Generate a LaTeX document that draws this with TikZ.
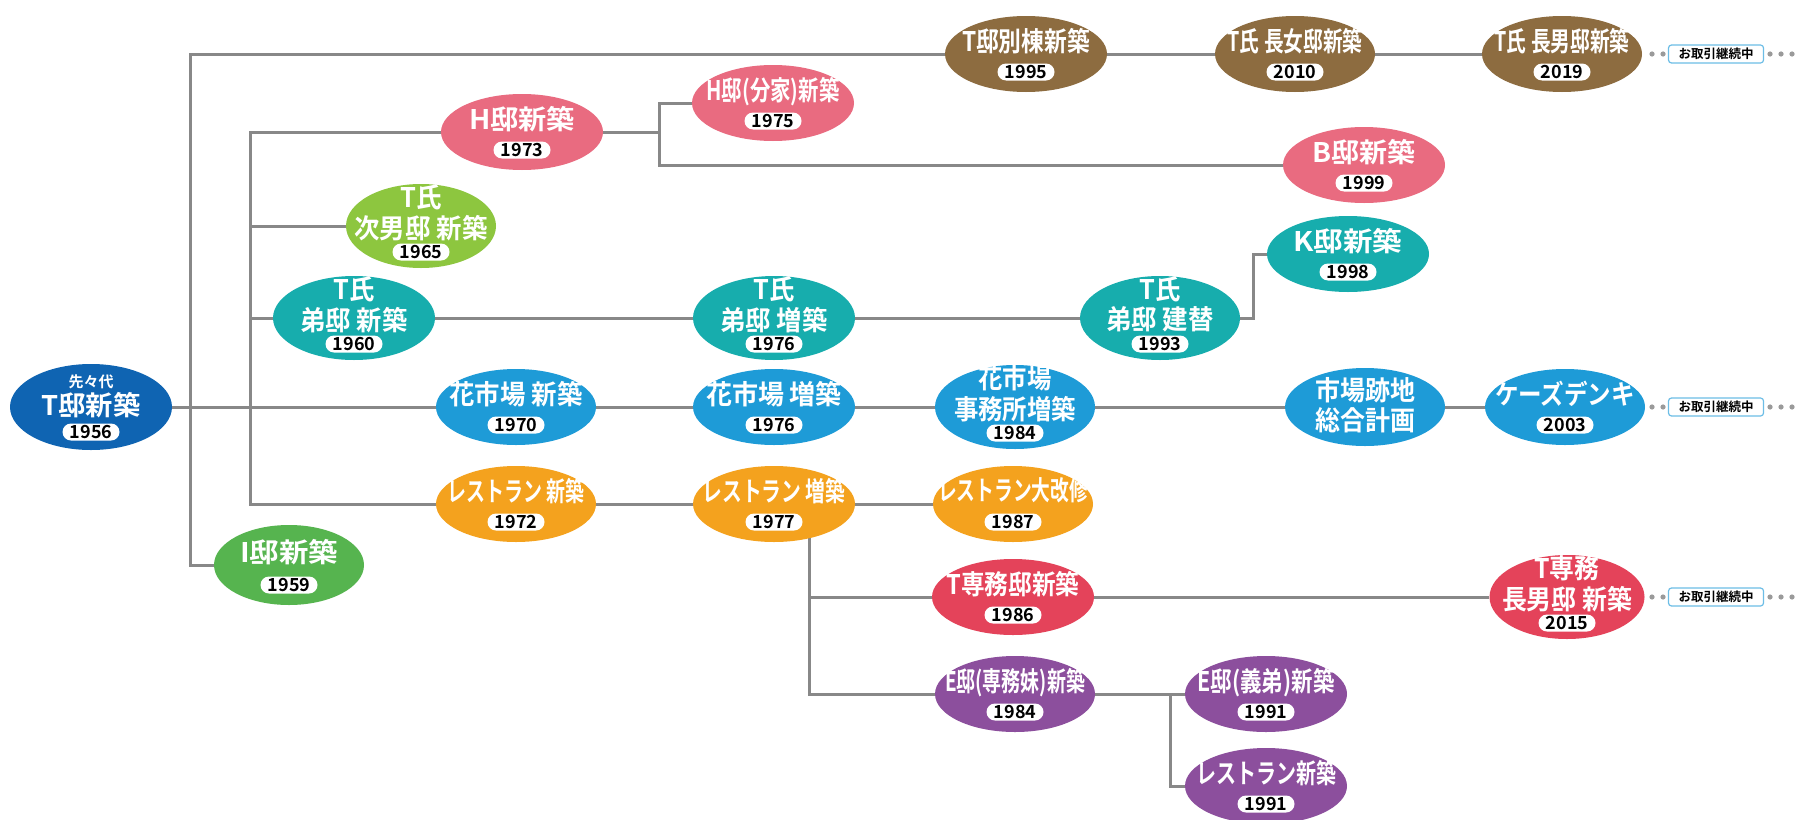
\documentclass[tikz,border=0pt]{standalone}
\usepackage{fontspec}
\setmainfont{Noto Sans CJK JP}[BoldFont=* Bold]
\usetikzlibrary{calc,backgrounds,shapes.geometric}
\definecolor{cRoot}{HTML}{0F64B2}
\definecolor{cBrown}{HTML}{8D6C40}
\definecolor{cPink}{HTML}{E96B80}
\definecolor{cLime}{HTML}{8DC63F}
\definecolor{cTeal}{HTML}{17ADAD}
\definecolor{cBlue}{HTML}{1E9BD7}
\definecolor{cOrange}{HTML}{F4A21E}
\definecolor{cGreen}{HTML}{56B44F}
\definecolor{cRed}{HTML}{E4435A}
\definecolor{cPurple}{HTML}{8C4F9D}
\definecolor{lineC}{HTML}{888888}
\definecolor{tagC}{HTML}{6CBDE6}
\definecolor{dotC}{HTML}{9A9A9A}
\newsavebox\fitbox
\newcommand\fitw[2]{\sbox\fitbox{\begin{tabular}{@{}c@{}}#2\end{tabular}}\edef\fitscale{\fpeval{#1/(\the\wd\fitbox)}}\scalebox{\fitscale}[1]{\usebox\fitbox}}
\tikzset{
  bubble/.style={ellipse, draw=none, inner sep=0},
  hA/.style={minimum height=76},
  hB/.style={minimum height=84},
  lbl/.style={text=white, inner sep=0, font=\fontsize{27}{23.5}\selectfont\bfseries},
  yr/.style={fill=white, rounded corners=8.5, minimum width=57, minimum height=17, inner sep=0, text=black, font=\fontsize{18}{18}\selectfont\bfseries},
  conn/.style={draw=lineC, line width=3},
  tagbox/.style={draw=tagC, line width=1.2, fill=white, rounded corners=3, minimum width=95, minimum height=18, inner sep=0, text=black, font=\fontsize{12.5}{12.5}\selectfont\bfseries},
  dotfill/.style={fill=dotC}
}
\newcommand\bub[8]{%
  \node[bubble,fill=#3,#4] (#1) at (#2) {};
  \node[lbl] (#1-t) at ($(#1)+(0,-11)$) {\fitw{#6}{#5}};
  \node[yr] (#1-y) at ($(#1)+(0,#8)$) {#7};
}
\begin{document}
\begin{tikzpicture}[x=1pt,y=-1pt]
\useasboundingbox (0,0) rectangle (1795,819);
% root
\node[bubble, fill=cRoot, minimum width=162, minimum height=86] (root) at (91,407) {};
\node[lbl, font=\fontsize{15}{15}\selectfont\bfseries] (root-s) at (91,382) {先々代};
\node[lbl, font=\fontsize{27}{27}\selectfont\bfseries] (root-t) at (91,408) {\fitw{99}{T邸新築}};
\node[yr] (root-y) at (91,432) {1956};
% top row
\bub{tbetto}{1026,54}{cBrown}{minimum width=162,hA}{T邸別棟新築}{128}{1995}{18}
\bub{choujo}{1295,54}{cBrown}{minimum width=160,hA}{T氏 長女邸新築}{135}{2010}{18}
\bub{chounan}{1562,54}{cBrown}{minimum width=160,hA}{T氏 長男邸新築}{135}{2019}{18}
% H
\bub{hshin}{522,132}{cPink}{minimum width=162,hA}{H邸新築}{106}{1973}{18}
\bub{bunke}{773,103}{cPink}{minimum width=162,hA}{H邸(分家)新築}{133}{1975}{18}
\bub{bshin}{1364,165}{cPink}{minimum width=162,hA}{B邸新築}{103}{1999}{18}
% jinan
\bub{jinan}{421,226}{cLime}{minimum width=150,hB}{T氏\\次男邸 新築}{133}{1965}{26}
\bub{kshin}{1348,254}{cTeal}{minimum width=162,hA}{K邸新築}{109}{1998}{18}
\bub{ota}{354,318}{cTeal}{minimum width=162,hB}{T氏\\弟邸 新築}{107}{1960}{26}
\bub{otb}{774,318}{cTeal}{minimum width=162,hB}{T氏\\弟邸 増築}{107}{1976}{26}
\bub{otc}{1160,318}{cTeal}{minimum width=160,hB}{T氏\\弟邸 建替}{107}{1993}{26}
% hana
\bub{hanaa}{516,407}{cBlue}{minimum width=160,hA}{花市場 新築}{133}{1970}{18}
\bub{hanab}{774,407}{cBlue}{minimum width=162,hA}{花市場 増築}{136}{1976}{18}
\bub{jimu}{1015,407}{cBlue}{minimum width=160,hB}{花市場\\事務所増築}{122}{1984}{26}
\node[bubble, fill=cBlue, minimum width=160, minimum height=78] (atochi) at (1365,407) {};
\node[lbl] (atochi-t) at (1365,407) {\fitw{100}{市場跡地\\総合計画}};
\bub{keiz}{1565,407}{cBlue}{minimum width=160,hA}{ケーズデンキ}{140}{2003}{18}
% restaurant
\bub{resta}{516,504}{cOrange}{minimum width=160,hA}{レストラン 新築}{137}{1972}{18}
\bub{restb}{774,504}{cOrange}{minimum width=162,hA}{レストラン 増築}{143}{1977}{18}
\bub{daikai}{1013,504}{cOrange}{minimum width=160,hA}{レストラン大改修}{150}{1987}{18}
\bub{itei}{289,565}{cGreen}{minimum width=150,minimum height=80}{I邸新築}{98}{1959}{20}
\bub{tsenmu}{1013,597}{cRed}{minimum width=162,hA}{T専務邸新築}{133}{1986}{18}
\bub{tsenmub}{1567,597}{cRed}{minimum width=155,hB}{T専務\\長男邸 新築}{130}{2015}{26}
\bub{esenmu}{1015,694}{cPurple}{minimum width=160,hA}{E邸(専務妹)新築}{140}{1984}{18}
\bub{egitei}{1266,694}{cPurple}{minimum width=162,hA}{E邸(義弟)新築}{137}{1991}{18}
\bub{prest}{1266,786}{cPurple}{minimum width=162,hA}{レストラン新築}{140}{1991}{18}
% tags
\foreach \n/\yy in {taga/54, tagb/407, tagc/597}{
  \node[tagbox] (\n) at (1716,\yy) {お取引継続中};
  \foreach \dx in {1652,1663,1770,1781,1792}{\fill[dotfill] (\dx,\yy) circle (2.6);}
}
\begin{scope}[on background layer]
\fill[white] (0,0) rectangle (1795,819);
\coordinate (v1) at (190,407);
\coordinate (v2) at (250,407);
\coordinate (v3) at (659,132);
\coordinate (v4) at (1253,318);
\coordinate (v5) at (809,504);
\coordinate (v6) at (1170,694);
\draw[conn] (root) -- (hanaa);
\draw[conn] (v1) |- (tbetto);
\draw[conn] (v1) |- (itei);
\draw[conn] (tbetto) -- (choujo);
\draw[conn] (choujo) -- (chounan);
\draw[conn] (v2) |- (hshin);
\draw[conn] (v2) |- (jinan);
\draw[conn] (v2) |- (ota);
\draw[conn] (v2) |- (resta);
\draw[conn] (hshin) -- (v3);
\draw[conn] (v3) |- (bunke);
\draw[conn] (v3) |- (bshin);
\draw[conn] (ota) -- (otb);
\draw[conn] (otb) -- (otc);
\draw[conn] (otc) -- (v4) |- (kshin);
\draw[conn] (hanaa) -- (hanab);
\draw[conn] (hanab) -- (jimu);
\draw[conn] (jimu) -- (atochi);
\draw[conn] (atochi) -- (keiz);
\draw[conn] (resta) -- (restb);
\draw[conn] (restb) -- (daikai);
\draw[conn] (v5) |- (tsenmu);
\draw[conn] (v5) |- (esenmu);
\draw[conn] (tsenmu) -- (tsenmub);
\draw[conn] (esenmu) -- (egitei);
\draw[conn] (v6) |- (prest);
\end{scope}
\end{tikzpicture}
\end{document}
